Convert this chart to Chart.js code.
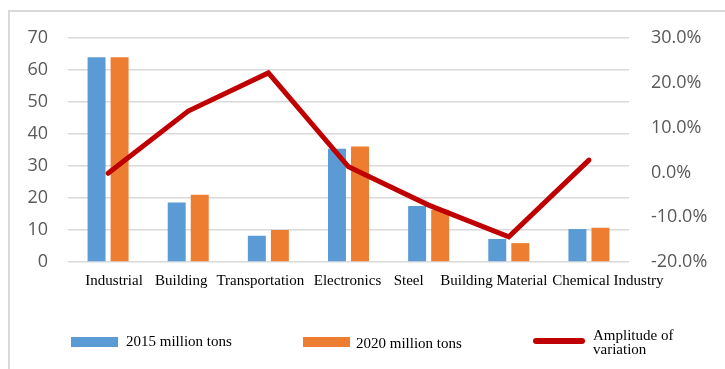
<!DOCTYPE html>
<html>
<head>
<meta charset="utf-8">
<script src="https://cdn.jsdelivr.net/npm/chart.js@4"></script>
<style>
  body { margin: 0; background: #fff; overflow: hidden; }
  #wrap { position: relative; width: 725px; height: 369px; overflow: hidden; }
  #frame { position: absolute; left: 8px; top: 10px; width: 800px; height: 400px;
           border-left: 2px solid #d9d9d9; border-top: 2px solid #d9d9d9; }
  canvas { position: absolute; left: 0; top: 0; }
  .lg { position: absolute; font-family: "Liberation Serif", "Times New Roman", serif;
        font-size: 15px; color: #000; white-space: nowrap; line-height: 14px; }
  .box { position: absolute; }
</style>
</head>
<body>
<div id="wrap">
  <div id="frame"></div>
  <canvas id="myChart" width="725" height="369"></canvas>
  <div class="box" style="left:71px;top:337px;width:47px;height:10px;background:#5b9bd5"></div>
  <div class="lg" style="left:126px;top:334px">2015 million tons</div>
  <div class="box" style="left:303px;top:337px;width:47px;height:10px;background:#ed7d31"></div>
  <div class="lg" style="left:356px;top:336px">2020 million tons</div>
  <div class="box" style="left:533px;top:338px;width:52px;height:6px;border-radius:3px;background:#c00000"></div>
  <div class="lg" style="left:593px;top:328px">Amplitude of<br>variation</div>
</div>
<script>
// Data --------------------------------------------
const categories = ["Industrial", "Building", "Transportation", "Electronics", "Steel", "Building Material", "Chemical Industry"];
const tons2015 = [64, 18.6, 8.2, 35.4, 17.5, 7.2, 10.3];
const tons2020 = [64, 21, 10, 36.1, 16.3, 5.9, 10.7];
const amplitude = [-0.002, 0.137, 0.222, 0.0125, -0.073, -0.144, 0.0275];

const tickFont = { family: "'Open Sans', sans-serif", size: 18 };

// category labels are nudged sideways like the original (Excel packs them)
const labelShift = [6, -7, -8, -1, -20, -15, 19];
const xLabels = {
	id: 'xLabels',
	afterDraw(c) {
		const x = c.scales.x, g = c.ctx;
		g.save();
		g.font = "15px 'Liberation Serif', serif";
		g.fillStyle = '#000';
		g.textAlign = 'center';
		g.textBaseline = 'middle';
		categories.forEach((lab, i) => {
			g.fillText(lab, x.getPixelForValue(i) + labelShift[i], c.chartArea.bottom + 19);
		});
		g.restore();
	}
};

let ctx = document.getElementById('myChart').getContext('2d');
let chart = new Chart(ctx, {
	type: 'bar',
	data: {
		labels: categories,
		datasets: [{
			type: 'line',
			label: 'Amplitude of variation',
			data: amplitude,
			yAxisID: 'y1',
			borderColor: '#c00000',
			borderWidth: 5,
			borderCapStyle: 'round',
			pointRadius: 0,
			tension: 0,
			order: 0
		}, {
			label: '2015 million tons',
			data: tons2015,
			backgroundColor: '#5b9bd5',
			categoryPercentage: 0.575,
			barPercentage: 0.78,
			order: 1
		}, {
			label: '2020 million tons',
			data: tons2020,
			backgroundColor: '#ed7d31',
			categoryPercentage: 0.575,
			barPercentage: 0.78,
			order: 1
		}]
	},
	options: {
		responsive: false,
		animation: false,
		layout: { padding: { top: 38, left: 0, right: 0, bottom: 0 } },
		plugins: { legend: { display: false }, tooltip: { enabled: false } },
		scales: {
			x: {
				grid: { display: false, drawTicks: false },
				border: { display: false },
				afterFit: s => { s.height = 107; },
				ticks: { display: false }
			},
			y: {
				position: 'left',
				min: 0, max: 70,
				afterFit: s => { s.width = 68; },
				grid: { color: '#d9d9d9', lineWidth: 1.5, drawTicks: false },
				border: { display: false },
				ticks: { stepSize: 10, padding: 20, color: '#595959', font: tickFont }
			},
			y1: {
				position: 'right',
				min: -0.2, max: 0.3,
				afterFit: s => { s.width = 96; },
				grid: { display: false, drawTicks: false },
				border: { display: false },
				ticks: {
					stepSize: 0.1, padding: 22, color: '#595959', font: tickFont,
					callback: v => (Math.round(v * 1000) / 10).toFixed(1) + '%'
				}
			}
		}
	},
	plugins: [xLabels]
});
</script>
</body>
</html>
